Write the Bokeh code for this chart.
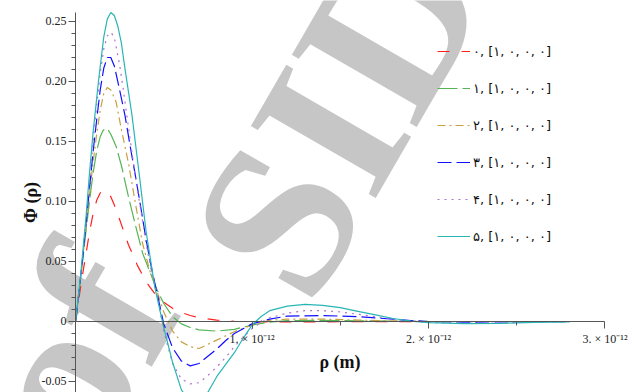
from bokeh.plotting import figure
from bokeh.models import FixedTicker, Legend, LegendItem, Label
from bokeh.embed import file_html
from bokeh.resources import INLINE

# rho in units of 1e-12 m
rho_0 = [0, 0.02, 0.04, 0.06, 0.08, 0.1, 0.12, 0.14, 0.16, 0.18, 0.2, 0.22, 0.25, 0.3, 0.35, 0.4, 0.45, 0.5,
         0.55, 0.6, 0.65, 0.7, 0.8, 0.9, 1.0, 1.2, 1.5, 2.0, 2.8]
phi_0 = [0, 0.02, 0.039, 0.057, 0.075, 0.09, 0.101, 0.107, 0.109, 0.108, 0.104, 0.097, 0.085, 0.064, 0.047,
         0.033, 0.023, 0.016, 0.011, 0.0075, 0.005, 0.0032, 0.0012, 0.0002, -0.0002, -0.0004, -0.0002, 0, 0]

rho_1 = [0, 0.02, 0.04, 0.06, 0.08, 0.1, 0.12, 0.14, 0.155, 0.17, 0.185, 0.2, 0.23, 0.26, 0.3, 0.34, 0.38, 0.42,
         0.46, 0.5, 0.55, 0.6, 0.65, 0.7, 0.8, 0.9, 1.0, 1.1, 1.2, 1.4, 1.6, 1.8, 2.0, 2.8]
phi_1 = [0, 0.024, 0.05, 0.076, 0.101, 0.124, 0.142, 0.154, 0.159, 0.161, 0.1595, 0.156, 0.146, 0.13, 0.104,
         0.08, 0.057, 0.042, 0.027, 0.015, 0.004, -0.002, -0.005, -0.007, -0.008, -0.0065, -0.003, -0.0005,
         0.0008, 0.001, 0.0006, 0.0002, 0, 0]

rho_2 = [0, 0.02, 0.04, 0.06, 0.08, 0.1, 0.12, 0.14, 0.16, 0.18, 0.2, 0.23, 0.26, 0.3, 0.34, 0.38, 0.42, 0.46,
         0.5, 0.55, 0.6, 0.65, 0.7, 0.75, 0.8, 0.9, 1.0, 1.1, 1.2, 1.4, 1.6, 1.8, 2.0, 2.8]
phi_2 = [0, 0.025, 0.051, 0.079, 0.107, 0.133, 0.156, 0.176, 0.19, 0.195, 0.193, 0.183, 0.16, 0.132, 0.098,
         0.065, 0.043, 0.026, 0.008, -0.008, -0.017, -0.021, -0.0225, -0.019, -0.0155, -0.0085, -0.003, 0.001,
         0.002, 0.002, 0.0012, 0.0005, 0, 0]

rho_3 = [0, 0.02, 0.04, 0.06, 0.08, 0.1, 0.12, 0.14, 0.16, 0.18, 0.2, 0.22, 0.25, 0.28, 0.31, 0.34, 0.37, 0.4,
         0.43, 0.46, 0.5, 0.55, 0.6, 0.65, 0.7, 0.75, 0.8, 0.85, 0.9, 0.95, 1.0, 1.1, 1.2, 1.4, 1.6, 1.8, 1.9,
         2.0, 2.2, 2.6, 2.8]
phi_3 = [0, 0.025, 0.052, 0.082, 0.112, 0.142, 0.168, 0.193, 0.211, 0.22, 0.22, 0.213, 0.193, 0.172, 0.146,
         0.121, 0.095, 0.068, 0.045, 0.025, -0.002, -0.022, -0.033, -0.037, -0.035, -0.029, -0.023, -0.016,
         -0.01, -0.006, -0.002, 0.002, 0.0045, 0.005, 0.004, 0.002, 0.0008, 0, -0.0005, -0.0002, 0]

rho_4 = [0, 0.02, 0.04, 0.06, 0.08, 0.1, 0.12, 0.14, 0.16, 0.18, 0.2, 0.22, 0.23, 0.25, 0.27, 0.31, 0.34, 0.37,
         0.4, 0.43, 0.46, 0.5, 0.55, 0.6, 0.65, 0.7, 0.75, 0.8, 0.85, 0.9, 0.95, 1.0, 1.05, 1.1, 1.2, 1.3, 1.4,
         1.5, 1.6, 1.7, 1.8, 1.9, 2.0, 2.2, 2.4, 2.6, 2.8]
phi_4 = [0, 0.025, 0.053, 0.084, 0.117, 0.15, 0.18, 0.207, 0.227, 0.238, 0.241, 0.237, 0.229, 0.214, 0.194,
         0.151, 0.12, 0.093, 0.065, 0.042, 0.024, -0.008, -0.035, -0.048, -0.052, -0.051, -0.045, -0.038, -0.03,
         -0.021, -0.013, -0.006, -0.001, 0.003, 0.007, 0.009, 0.009, 0.008, 0.006, 0.004, 0.002, 0.0005,
         -0.0008, -0.0015, -0.0012, -0.0006, 0]

rho_5 = [0, 0.03, 0.06, 0.08, 0.1, 0.13, 0.16, 0.18, 0.2, 0.22, 0.24, 0.26, 0.28, 0.32, 0.36, 0.4, 0.45, 0.5,
         0.55, 0.6, 0.65, 0.7, 0.75, 0.8, 0.85, 0.9, 0.95, 1.0, 1.05, 1.1, 1.2, 1.3, 1.4, 1.5, 1.6, 1.7, 1.8,
         1.9, 2.0, 2.2, 2.4, 2.6, 2.8]
phi_5 = [0, 0.04, 0.088, 0.125, 0.158, 0.2, 0.237, 0.252, 0.2575, 0.255, 0.246, 0.232, 0.211, 0.172, 0.124,
         0.075, 0.028, -0.005, -0.034, -0.057, -0.067, -0.066, -0.059, -0.046, -0.036, -0.026, -0.014, -0.003,
         0.004, 0.009, 0.0128, 0.0142, 0.0135, 0.0115, 0.0085, 0.0055, 0.0025, 0.0003, -0.001, -0.0018,
         -0.0015, -0.0008, -0.0003]

series_rho = [rho_0, rho_1, rho_2, rho_3, rho_4, rho_5]
series_phi = [phi_0, phi_1, phi_2, phi_3, phi_4, phi_5]
series_labels = ["۰, [۱, ۰, ۰, ۰]", "۱, [۱, ۰, ۰, ۰]", "۲, [۱, ۰, ۰, ۰]",
                 "۳, [۱, ۰, ۰, ۰]", "۴, [۱, ۰, ۰, ۰]", "۵, [۱, ۰, ۰, ۰]"]
series_colors = ["#FF2020", "#55B455", "#C8A040", "#1010FF", "#B070D0", "#2AB5B5"]
series_dashes = ["12 12", "20 5", "8 4 2 4", "14 5", "2 5", "solid"]

x_ticks = [1e-12, 2e-12, 3e-12]
x_tick_labels = ["1. × 10⁻¹²", "2. × 10⁻¹²", "3. × 10⁻¹²"]
y_ticks = [-0.05, 0, 0.05, 0.1, 0.15, 0.2, 0.25]
y_tick_labels = ["-0.05", "0", "0.05", "0.10", "0.15", "0.20", "0.25"]

# the frame covers the whole canvas; both axes are pinned at zero
p = figure(width=634, height=392, output_backend="svg", toolbar_location=None,
           x_range=(-0.42493e-12, 3.16714e-12), y_range=(-0.05917, 0.2675),
           min_border_left=0, min_border_right=0, min_border_top=0, min_border_bottom=0)
p.outline_line_color = None
p.xgrid.visible = False
p.ygrid.visible = False
p.background_fill_color = "white"
p.border_fill_color = "white"

# watermark (two parts of "Archive of SID")
wm_style = dict(angle=60, angle_units="deg", text_font="Liberation Serif", text_font_style="bold",
                text_font_size="220px", text_color="#c6c6c6", text_align="center",
                text_baseline="middle", level="underlay")
p.add_layout(Label(x=1.49e-12, y=0.1725, text="SID", **wm_style))
p.add_layout(Label(x=0.0e-12, y=-0.0242, text="of", **wm_style))

items = []
for rr, ff, lab, col, dash in zip(series_rho, series_phi, series_labels, series_colors, series_dashes):
    xs = [v * 1e-12 for v in rr]
    r = p.line(xs, ff, line_color=col, line_width=1.2, line_dash=dash)
    items.append(LegendItem(label=lab, renderers=[r]))

axis_col = "#555555"
xa = p.xaxis[0]
xa.fixed_location = 0
xa.bounds = (0, 3e-12)
xa.ticker = FixedTicker(ticks=x_ticks, minor_ticks=[0.5e-12, 1.5e-12, 2.5e-12])
xa.major_label_overrides = dict(zip(x_ticks, x_tick_labels))
xa.axis_line_color = axis_col
xa.major_tick_line_color = axis_col
xa.minor_tick_line_color = axis_col
xa.major_tick_in = 0
xa.major_tick_out = 7
xa.minor_tick_in = 0
xa.minor_tick_out = 4
xa.major_label_standoff = 4
xa.major_label_text_font = "Liberation Serif"
xa.major_label_text_font_size = "12px"
xa.major_label_text_color = "#222222"
xa.axis_label = "ρ (m)"
xa.axis_label_text_font = "Liberation Serif"
xa.axis_label_text_font_style = "bold"
xa.axis_label_text_font_size = "18px"
xa.axis_label_text_color = "#111111"
xa.axis_label_standoff = 2

ya = p.yaxis[0]
ya.fixed_location = 0
ya.bounds = (-0.05917, 0.2575)
ya.ticker = FixedTicker(ticks=y_ticks,
                        minor_ticks=[-0.06, -0.04, -0.03, -0.02, -0.01, 0.01, 0.02, 0.03, 0.04, 0.06, 0.07,
                                     0.08, 0.09, 0.11, 0.12, 0.13, 0.14, 0.16, 0.17, 0.18, 0.19, 0.21, 0.22,
                                     0.23, 0.24])
ya.major_label_overrides = dict(zip(y_ticks, y_tick_labels))
ya.axis_line_color = axis_col
ya.major_tick_line_color = axis_col
ya.minor_tick_line_color = axis_col
ya.major_tick_in = 0
ya.major_tick_out = 7
ya.minor_tick_in = 0
ya.minor_tick_out = 4
ya.major_label_standoff = 2
ya.major_label_text_font = "Liberation Serif"
ya.major_label_text_font_size = "12px"
ya.major_label_text_color = "#222222"
ya.axis_label = "Φ (ρ)"
ya.axis_label_text_font = "Liberation Serif"
ya.axis_label_text_font_style = "bold"
ya.axis_label_text_font_size = "18px"
ya.axis_label_text_color = "#111111"
ya.axis_label_standoff = -2

legend = Legend(items=items, location=(437, 146), padding=0, spacing=17, glyph_width=33, glyph_height=20,
                label_height=20, label_standoff=3, border_line_color=None, background_fill_alpha=0,
                label_text_font="DejaVu Sans", label_text_font_size="13px", label_text_color="#111111")
p.add_layout(legend)

open("out.html", "w").write(file_html(p, INLINE))
